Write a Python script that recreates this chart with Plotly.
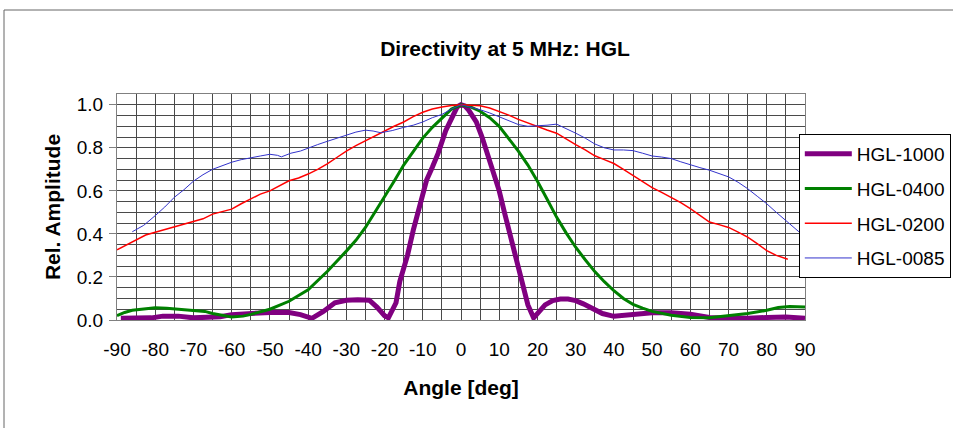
import plotly.graph_objects as go

# ---- data ----
ang_1000 = [-89, -85, -81, -78, -74, -70, -66, -63, -60, -55, -50, -45, -42, -39, -36, -33, -30,
            -27, -24, -22, -20, -19, -17, -16, -14, -12.5, -11, -9, -7.5, -6, -4, -2, -1, 0, 1,
            2, 4, 5.5, 7, 8.5, 10, 11.5, 13, 15, 16.5, 17.5, 19, 20.5, 22, 24, 26, 28, 30, 32,
            34.5, 37, 40, 45, 50, 55, 60, 65, 70, 75, 80, 85, 90]
amp_1000 = [0.008, 0.008, 0.010, 0.018, 0.018, 0.010, 0.010, 0.015, 0.025, 0.032, 0.035, 0.035,
            0.025, 0.008, 0.040, 0.080, 0.092, 0.094, 0.092, 0.060, 0.020, 0.010, 0.080, 0.180,
            0.300, 0.416, 0.510, 0.650, 0.710, 0.774, 0.880, 0.960, 0.990, 1.000, 0.995, 0.975,
            0.920, 0.850, 0.765, 0.680, 0.600, 0.490, 0.380, 0.240, 0.130, 0.070, 0.010, 0.040,
            0.070, 0.090, 0.097, 0.097, 0.090, 0.075, 0.050, 0.030, 0.017, 0.027, 0.034, 0.034,
            0.027, 0.012, 0.008, 0.008, 0.012, 0.014, 0.008]

ang_0400 = [-90, -88, -86, -83, -80, -77, -74, -70, -67, -65, -62, -60, -57, -55, -50, -45, -40,
            -35, -30, -27.5, -25, -22.5, -20, -17.5, -15, -12.5, -10, -7.5, -5, -2.5, 0, 2.5, 5,
            7.5, 10, 12.5, 15, 17.5, 20, 22.5, 25, 27.5, 30, 32.5, 35, 37.5, 40, 42.5, 45, 47.5,
            50, 55, 60, 65, 70, 75, 80, 83, 86, 88, 90]
amp_0400 = [0.020, 0.035, 0.045, 0.050, 0.057, 0.055, 0.050, 0.045, 0.040, 0.030, 0.019, 0.014,
            0.018, 0.026, 0.050, 0.087, 0.140, 0.225, 0.320, 0.370, 0.430, 0.500, 0.570, 0.645,
            0.720, 0.785, 0.845, 0.895, 0.940, 0.980, 1.000, 0.990, 0.970, 0.940, 0.900, 0.845,
            0.785, 0.720, 0.645, 0.562, 0.478, 0.405, 0.338, 0.280, 0.225, 0.178, 0.136, 0.100,
            0.073, 0.055, 0.040, 0.022, 0.012, 0.011, 0.019, 0.030, 0.045, 0.058, 0.063, 0.063,
            0.060]

ang_0200 = [-90, -87.5, -85, -82.5, -80, -77.5, -75, -72.5, -70, -67.5, -65, -62.5, -60, -57.5,
            -55, -52.5, -50, -47.5, -45, -42.5, -40, -37.5, -35, -32.5, -30, -27.5, -25, -22.5,
            -20, -17.5, -15, -12.5, -10, -7.5, -5, -2.5, 0, 2.5, 5, 7.5, 10, 12.5, 15, 17.5, 20,
            22.5, 25, 27.5, 30, 32.5, 35, 37.5, 40, 42.5, 45, 47.5, 50, 52.5, 55, 57.5, 60, 62.5,
            65, 67.5, 70, 72.5, 75, 77.5, 80, 82.5, 85, 85.5]
amp_0200 = [0.326, 0.350, 0.375, 0.395, 0.408, 0.420, 0.433, 0.445, 0.455, 0.470, 0.492, 0.505,
            0.515, 0.540, 0.562, 0.585, 0.600, 0.625, 0.647, 0.660, 0.678, 0.700, 0.725, 0.755,
            0.785, 0.810, 0.833, 0.855, 0.880, 0.900, 0.920, 0.945, 0.965, 0.980, 0.990, 0.997,
            1.000, 0.998, 0.995, 0.985, 0.970, 0.952, 0.932, 0.915, 0.898, 0.883, 0.868, 0.840,
            0.815, 0.790, 0.763, 0.745, 0.727, 0.700, 0.673, 0.645, 0.615, 0.593, 0.570, 0.545,
            0.517, 0.485, 0.455, 0.443, 0.430, 0.408, 0.385, 0.355, 0.322, 0.300, 0.285, 0.282]

ang_0085 = [-86, -83, -80, -77.5, -75, -72.5, -70, -67.5, -65, -62.5, -60, -57.5, -55, -52.5, -50,
            -48, -47, -46, -44.5, -42, -40, -37.5, -35, -32.5, -30, -27.5, -25, -23, -21, -18,
            -15, -12.5, -10, -7.5, -5, -2.5, 0, 2.5, 5, 7.5, 10, 12.5, 15, 17.5, 20, 22.5, 25,
            27.5, 30, 32.5, 35, 37.5, 40, 42.5, 45, 47.5, 50, 52.5, 55, 57.5, 60, 62.5, 65, 67.5,
            70, 72.5, 75, 77.5, 80, 82.5, 85, 87, 88.4]
amp_0085 = [0.410, 0.440, 0.485, 0.525, 0.570, 0.605, 0.645, 0.675, 0.700, 0.718, 0.733, 0.745,
            0.755, 0.762, 0.770, 0.765, 0.758, 0.765, 0.775, 0.785, 0.800, 0.815, 0.830, 0.845,
            0.860, 0.873, 0.882, 0.878, 0.870, 0.880, 0.895, 0.905, 0.920, 0.940, 0.955, 0.980,
            1.000, 0.990, 0.977, 0.962, 0.945, 0.925, 0.908, 0.900, 0.902, 0.905, 0.910, 0.890,
            0.868, 0.845, 0.818, 0.800, 0.790, 0.790, 0.787, 0.775, 0.762, 0.757, 0.750, 0.735,
            0.720, 0.708, 0.696, 0.680, 0.665, 0.640, 0.610, 0.575, 0.540, 0.500, 0.460, 0.430,
            0.410]

series = [
    ("HGL-1000", ang_1000, amp_1000, "#800080", 5),
    ("HGL-0400", ang_0400, amp_0400, "#008000", 3),
    ("HGL-0200", ang_0200, amp_0200, "#FF0000", 1.5),
    ("HGL-0085", ang_0085, amp_0085, "#3333CC", 1),
]

x_ticks = list(range(-90, 91, 10))
x_tick_text = [str(v) for v in x_ticks]          # plain hyphen-minus, as in the reference
y_ticks = [0.0, 0.2, 0.4, 0.6, 0.8, 1.0]
y_tick_text = ["0.0", "0.2", "0.4", "0.6", "0.8", "1.0"]

FONT = "Liberation Sans, Arial, sans-serif"
GRID = "#4a4a4a"

fig = go.Figure()
for name, xs, ys, col, w in series:
    fig.add_trace(go.Scatter(x=xs, y=ys, mode="lines", name=name, legendgroup=name,
                             line=dict(color=col, width=w)))

fig.update_layout(
    width=953, height=428, autosize=False,
    margin=dict(l=117, r=148, t=94, b=108, autoexpand=False),
    paper_bgcolor="white", plot_bgcolor="white",
    font=dict(family=FONT, size=19, color="black"),
    title=dict(text="<b>Directivity at 5 MHz: HGL</b>", font=dict(size=21, family=FONT),
               x=0.564, xref="paper", xanchor="center", y=1 - 49 / 428, yanchor="middle"),
    showlegend=True,
    legend=dict(x=0.991, y=0.823, xanchor="left", yanchor="top", bgcolor="white",
                bordercolor="black", borderwidth=1, font=dict(size=19, family=FONT),
                tracegroupgap=7, itemwidth=47),
    xaxis=dict(range=[-90, 90], tickvals=x_ticks, ticktext=x_tick_text, ticks="",
               showgrid=True, gridcolor=GRID, gridwidth=1,
               minor=dict(dtick=5, showgrid=True, gridcolor=GRID, gridwidth=1),
               showline=True, linecolor="#808080", linewidth=1, mirror=True, zeroline=False,
               ticklabelstandoff=12,
               title=dict(text="<b>Angle [deg]</b>", font=dict(size=21), standoff=21)),
    yaxis=dict(range=[0, 1.05], tickvals=y_ticks, ticktext=y_tick_text, ticks="outside",
               ticklen=7, tickcolor="#808080", showgrid=True, gridcolor=GRID, gridwidth=1,
               minor=dict(dtick=0.05, tick0=0, showgrid=True, gridcolor=GRID, gridwidth=1),
               showline=True, linecolor="#808080", linewidth=1, mirror=True, zeroline=False,
               ticklabelstandoff=2,
               title=dict(text="<b>Rel. Amplitude</b>", font=dict(size=21), standoff=10)),
)

# outer chart border
fig.add_shape(type="rect", xref="paper", yref="paper", x0=(4 - 117) / 688, x1=1.6,
              y0=-1.0, y1=(320 - 10) / 226, line=dict(color="#666666", width=1),
              fillcolor="rgba(0,0,0,0)", layer="below")

fig.write_html(
    "out.html",
    config={"responsive": False, "displayModeBar": False},
    post_script="document.body.style.margin='0';document.body.style.overflow='hidden';"
                "document.documentElement.style.overflow='hidden';",
)
